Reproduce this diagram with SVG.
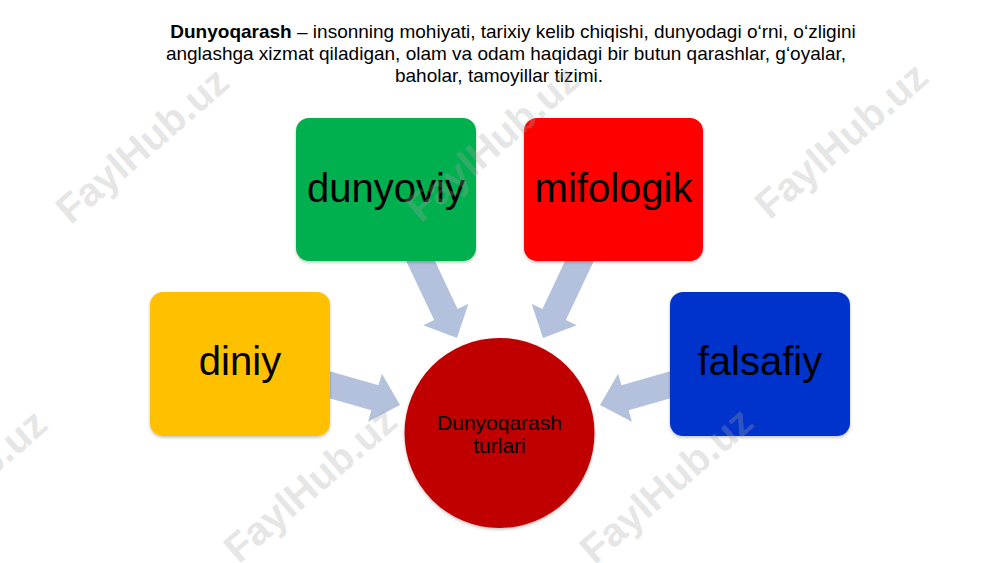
<svg xmlns="http://www.w3.org/2000/svg" width="1000" height="563" viewBox="0 0 1000 563">
<defs>
<style>
.title{font-family:"Liberation Sans",Arial,sans-serif;font-size:19px;fill:#000;text-anchor:middle}
.lbl{font-family:"Liberation Sans",Arial,sans-serif;font-size:40px;fill:#000;text-anchor:middle}
.clbl{font-family:"Liberation Sans",Arial,sans-serif;font-size:21px;fill:#000;text-anchor:middle}
.arrow{fill:#B4C1DD}
.wm{font-family:"Liberation Sans",Arial,sans-serif;font-weight:bold;font-size:40px;fill:#a8a8a8;fill-opacity:0.3;text-anchor:middle;dominant-baseline:central}
</style>
<filter id="sh" x="-10%" y="-10%" width="120%" height="125%">
<feDropShadow dx="0" dy="1.5" stdDeviation="1.5" flood-color="#000" flood-opacity="0.25"/>
</filter>
</defs>
<rect width="1000" height="563" fill="#fff"/>

<g id="title">
<text class="title" x="513" y="38"><tspan font-weight="bold">Dunyoqarash</tspan> – insonning mohiyati, tarixiy kelib chiqishi, dunyodagi o‘rni, o‘zligini</text>
<text class="title" x="506" y="60">anglashga xizmat qiladigan, olam va odam haqidagi bir butun qarashlar, g‘oyalar,</text>
<text class="title" x="499" y="82">baholar, tamoyillar tizimi.</text>
</g>

<g id="connectors">
<polygon class="arrow" transform="translate(413 245) rotate(64.7)" points="0,-13 76.9,-13 76.9,-25 102.9,0 76.9,25 76.9,13 0,13"/>
<polygon class="arrow" transform="translate(587 245) rotate(115.3)" points="0,-13 76.9,-13 76.9,-25 102.9,0 76.9,25 76.9,13 0,13"/>
<polygon class="arrow" transform="translate(320 382) rotate(16)" points="0,-13 57.2,-13 57.2,-25 83.2,0 57.2,25 57.2,13 0,13"/>
<polygon class="arrow" transform="translate(680 382) rotate(164)" points="0,-13 57.2,-13 57.2,-25 83.2,0 57.2,25 57.2,13 0,13"/>
</g>

<g id="node-dunyoviy">
<rect x="296" y="118" width="180" height="143" rx="13" fill="#00B050" filter="url(#sh)"/>
<text class="lbl" x="386" y="202">dunyoviy</text>
</g>
<g id="node-mifologik">
<rect x="524" y="118" width="179" height="143" rx="13" fill="#FF0000" filter="url(#sh)"/>
<text class="lbl" x="613.5" y="202">mifologik</text>
</g>
<g id="node-diniy">
<rect x="150" y="292" width="180" height="144" rx="13" fill="#FFC000" filter="url(#sh)"/>
<text class="lbl" x="240" y="375">diniy</text>
</g>
<g id="node-falsafiy">
<rect x="670" y="292" width="180" height="144" rx="13" fill="#0033CC" filter="url(#sh)"/>
<text class="lbl" x="760" y="375">falsafiy</text>
</g>
<g id="node-center">
<circle cx="499.5" cy="433" r="95" fill="#C00000" filter="url(#sh)"/>
<text class="clbl" x="499.5" y="430">Dunyoqarash</text>
<text class="clbl" x="499.5" y="453">turlari</text>
</g>

<g id="watermarks">
<text class="wm" x="142" y="145" transform="rotate(-41 142 145)">FaylHub.uz</text>
<text class="wm" x="492" y="143" transform="rotate(-41 492 143)">FaylHub.uz</text>
<text class="wm" x="841" y="140" transform="rotate(-41 841 140)">FaylHub.uz</text>
<text class="wm" x="-40" y="487" transform="rotate(-41 -40 487)">FaylHub.uz</text>
<text class="wm" x="310" y="484" transform="rotate(-41 310 484)">FaylHub.uz</text>
<text class="wm" x="666" y="485" transform="rotate(-41 666 485)">FaylHub.uz</text>
</g>
</svg>
